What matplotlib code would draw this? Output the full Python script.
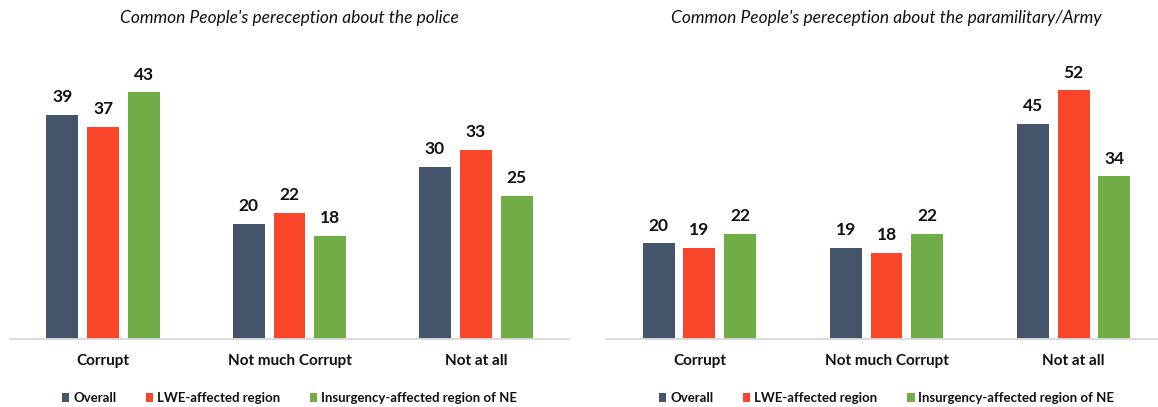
import numpy as np
import matplotlib

matplotlib.use('Agg')
import matplotlib.pyplot as plt

plt.rcParams['font.family'] = ['Lato', 'DejaVu Sans']

categorias = ["Corrupt", "Not much Corrupt", "Not at all"]
series = ["Overall", "LWE-affected region", "Insurgency-affected region of NE"]
colores = ["#44546A", "#F9452A", "#70AD47"]

policia_overall = [39, 20, 30]
policia_lwe = [37, 22, 33]
policia_ne = [43, 18, 25]

ejercito_overall = [20, 19, 45]
ejercito_lwe = [19, 18, 52]
ejercito_ne = [22, 22, 34]

titulo_policia = "Common People's pereception about the police"
titulo_ejercito = "Common People's pereception about the paramilitary/Army"


def dibujar_panel(ax, valores, titulo, ymax):
    x = np.arange(len(categorias))
    ancho = 0.171
    paso = 0.219
    for i, (vals, color, nombre) in enumerate(zip(valores, colores, series)):
        barras = ax.bar(x + (i - 1) * paso, vals, ancho, color=color, label=nombre)
        for b, v in zip(barras, vals):
            ax.annotate(str(v), (b.get_x() + b.get_width() / 2, v),
                        xytext=(0, 7), textcoords="offset points",
                        ha="center", va="bottom", fontsize=12.5,
                        fontweight="bold", color="#111111")

    ax.set_xlim(-0.5, 2.5)
    ax.set_ylim(0, ymax)
    ax.set_xticks(x)
    ax.set_xticklabels(categorias, fontsize=11, fontweight="bold", color="#111111")
    ax.tick_params(axis="x", length=0, pad=11)
    ax.set_yticks([])
    for lado in ["top", "right", "left"]:
        ax.spines[lado].set_visible(False)
    ax.spines["bottom"].set_color("#D9D9D9")
    ax.spines["bottom"].set_linewidth(1.3)

    ax.text(0.5, 1.118, titulo, transform=ax.transAxes, ha="center",
            va="center", fontsize=12.5, style="italic", color="#111111")

    leg = ax.legend(loc="center", bbox_to_anchor=(0.5, -0.206), ncol=3,
                    frameon=False, handlelength=0.6, handleheight=0.6,
                    handletextpad=0.3, columnspacing=2.2,
                    prop={"size": 9.5, "weight": "bold"})
    for t in leg.get_texts():
        t.set_color("#111111")


fig = plt.figure(figsize=(11.58, 4.07), dpi=100)
ax1 = fig.add_axes([0.00864, 0.1671, 0.4827, 0.705])
ax2 = fig.add_axes([0.5233, 0.1671, 0.4845, 0.705])

dibujar_panel(ax1, [policia_overall, policia_lwe, policia_ne], titulo_policia, 50)
dibujar_panel(ax2, [ejercito_overall, ejercito_lwe, ejercito_ne], titulo_ejercito, 60)

fig.savefig("out.png", dpi=100)
plt.close(fig)
